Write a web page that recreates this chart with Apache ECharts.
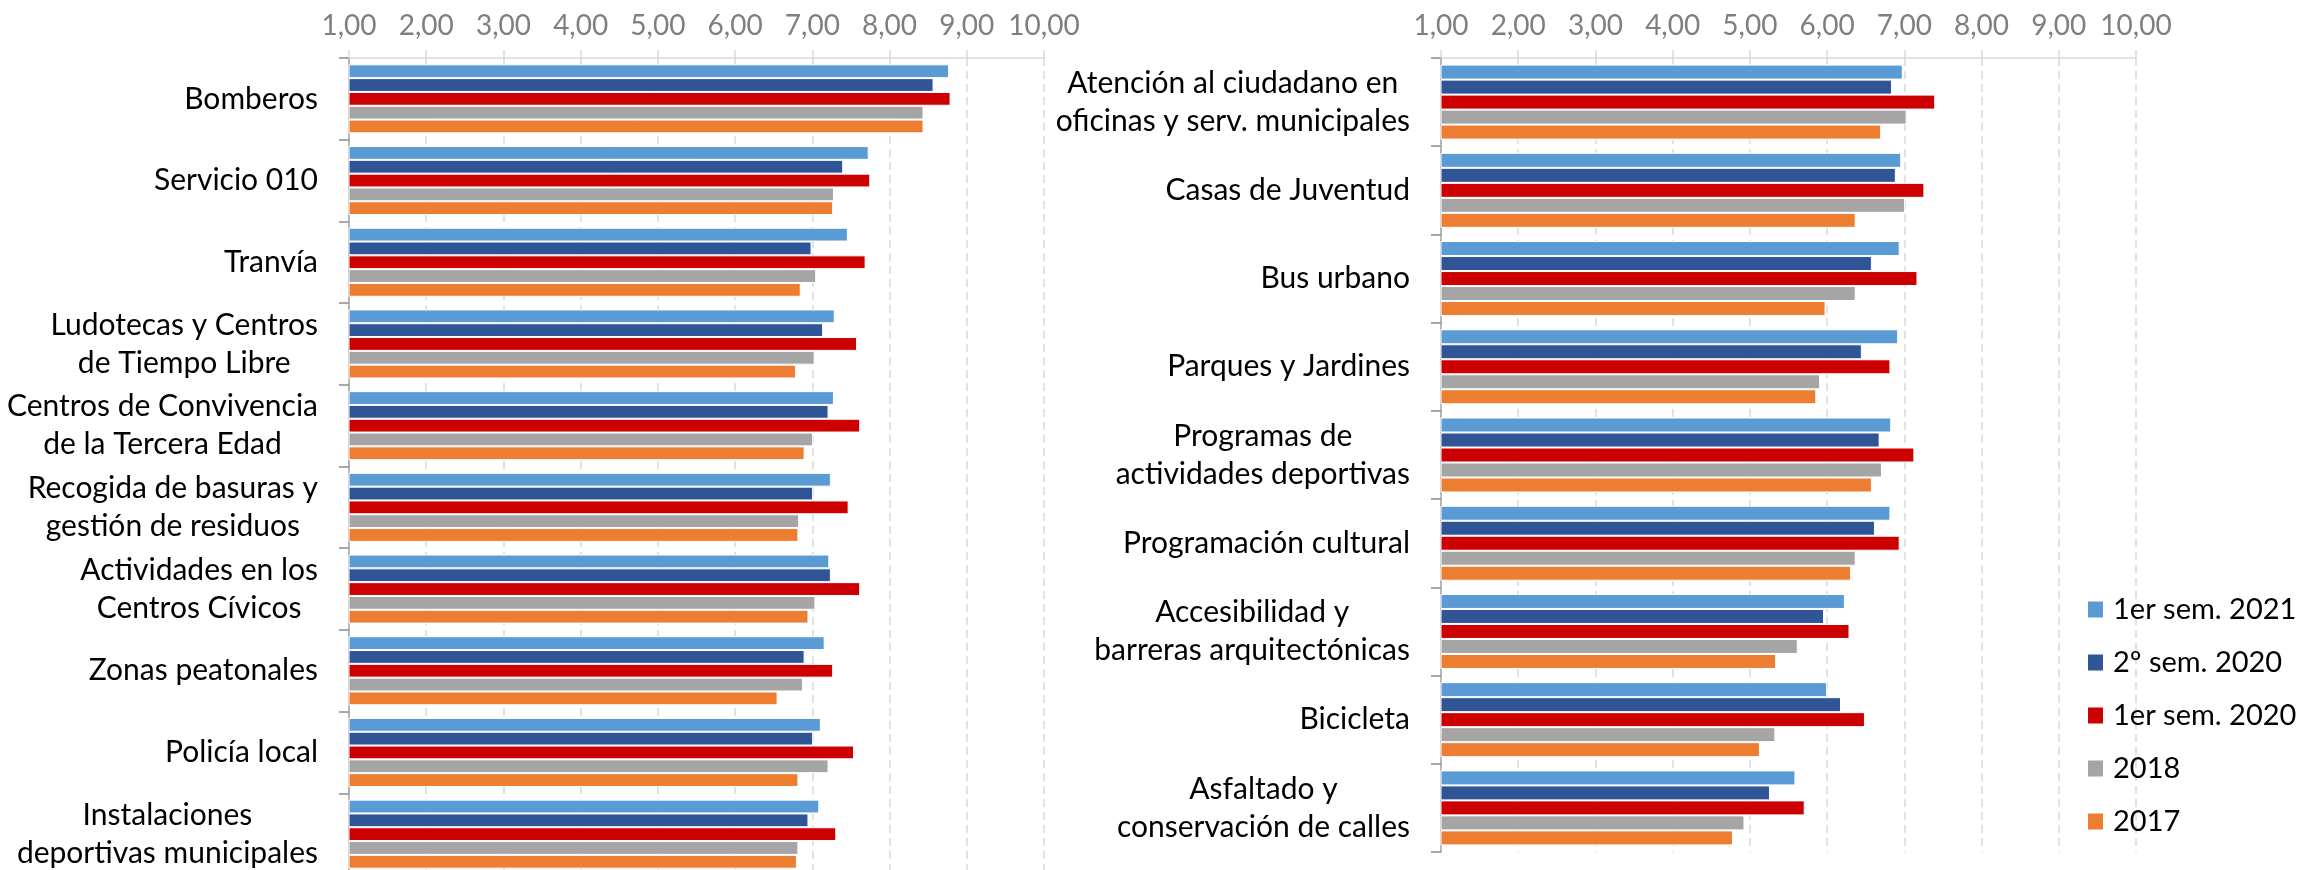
<!DOCTYPE html>
<html>
<head>
<meta charset="utf-8">
<title>Valoración de servicios municipales</title>
<script src="https://cdn.jsdelivr.net/npm/echarts@6/dist/echarts.min.js"></script>
<style>html,body{margin:0;padding:0;background:#fff;}</style>
</head>
<body>
<div id="main" style="width:2300px;height:870px;"></div>
<script>
// series (periods) and colours
var periods = ['1er sem. 2021', '2º sem. 2020', '1er sem. 2020', '2018', '2017'];
var periodColors = ['#5B9BD5', '#2F5597', '#CC0000', '#A5A5A5', '#ED7D31'];

// left panel
var catsLeft = [
  'Bomberos',
  'Servicio 010',
  'Tranvía',
  'Ludotecas y Centros\nde Tiempo Libre',
  'Centros de Convivencia\nde la Tercera Edad',
  'Recogida de basuras y\ngestión de residuos',
  'Actividades en los\nCentros Cívicos',
  'Zonas peatonales',
  'Policía local',
  'Instalaciones\ndeportivas municipales'
];
var left2021s1 = [8.77, 7.73, 7.46, 7.29, 7.28, 7.24, 7.22, 7.16, 7.11, 7.09];
var left2020s2 = [8.57, 7.40, 6.99, 7.14, 7.21, 7.01, 7.24, 6.90, 7.01, 6.95];
var left2020s1 = [8.79, 7.75, 7.69, 7.58, 7.62, 7.47, 7.62, 7.27, 7.54, 7.31];
var left2018   = [8.44, 7.28, 7.05, 7.03, 7.01, 6.83, 7.04, 6.88, 7.21, 6.82];
var left2017   = [8.44, 7.27, 6.85, 6.79, 6.90, 6.82, 6.95, 6.55, 6.82, 6.80];

// right panel
var catsRight = [
  'Atención al ciudadano en\noficinas y serv. municipales',
  'Casas de Juventud',
  'Bus urbano',
  'Parques y Jardines',
  'Programas de\nactividades deportivas',
  'Programación cultural',
  'Accesibilidad y\nbarreras arquitectónicas',
  'Bicicleta',
  'Asfaltado y\nconservación de calles'
];
var right2021s1 = [6.98, 6.96, 6.94, 6.92, 6.83, 6.82, 6.23, 6.00, 5.59];
var right2020s2 = [6.84, 6.89, 6.58, 6.45, 6.68, 6.62, 5.96, 6.18, 5.26];
var right2020s1 = [7.40, 7.26, 7.17, 6.82, 7.13, 6.94, 6.29, 6.49, 5.71];
var right2018   = [7.03, 7.01, 6.37, 5.91, 6.71, 6.37, 5.62, 5.33, 4.93];
var right2017   = [6.70, 6.37, 5.98, 5.86, 6.58, 6.31, 5.34, 5.13, 4.78];

var leftData = [left2021s1, left2020s2, left2020s1, left2018, left2017];
var rightData = [right2021s1, right2020s2, right2020s1, right2018, right2017];

var FONT = 'Lato';

function valueAxis(idx) {
  return {
    gridIndex: idx,
    type: 'value',
    position: 'top',
    min: 1,
    max: 10,
    interval: 1,
    axisLine: { show: true, lineStyle: { color: '#D9D9D9', width: 1.5 } },
    axisTick: { show: true, length: 8, lineStyle: { color: '#D9D9D9', width: 1.5 } },
    axisLabel: {
      color: '#7F7F7F', fontSize: 28, fontFamily: FONT, margin: 18,
      formatter: function (v) { return v.toFixed(2).replace('.', ','); }
    },
    splitLine: { show: true, lineStyle: { color: '#D9D9D9', width: 1.5, type: [8, 5] } }
  };
}

function catAxis(idx, cats) {
  return {
    gridIndex: idx,
    type: 'category',
    inverse: true,
    data: cats,
    axisLine: { show: true, lineStyle: { color: '#A6A6A6', width: 1.5 } },
    axisTick: { show: true, length: 10, lineStyle: { color: '#8C8C8C', width: 1.5 } },
    axisLabel: {
      interval: 0,
      margin: 31,
      color: '#000', fontSize: 30, fontFamily: FONT, lineHeight: 38,
      // lines centred inside the right-aligned block
      formatter: function (v) {
        return v.split('\n').map(function (s) { return '{c|' + s + '}'; }).join('\n');
      },
      rich: { c: { align: 'center', color: '#000', fontSize: 30, fontFamily: FONT, lineHeight: 38 } }
    },
    splitLine: { show: false }
  };
}

var series = [];
periods.forEach(function (name, i) {
  [leftData, rightData].forEach(function (set, g) {
    series.push({
      name: name,
      type: 'bar',
      xAxisIndex: g,
      yAxisIndex: g,
      data: set[i],
      barGap: '0%',
      barCategoryGap: g === 0 ? '15.5%' : '15%',
      itemStyle: { color: periodColors[i], borderColor: '#fff', borderWidth: 1 },
      emphasis: { disabled: true }
    });
  });
});

var chart = echarts.init(document.getElementById('main'));
chart.setOption({
  animation: false,
  backgroundColor: '#fff',
  grid: [
    { left: 349, top: 58, width: 695, height: 817, outerBoundsMode: 'none' },
    { left: 1441, top: 58, width: 695, height: 794, outerBoundsMode: 'none' }
  ],
  legend: {
    orient: 'vertical',
    left: 2086,
    top: 595,
    padding: 0,
    itemWidth: 17,
    itemHeight: 18,
    itemGap: 24,
    icon: 'rect',
    data: periods,
    textStyle: { color: '#000', fontSize: 29, fontFamily: FONT, padding: [0, 0, 0, 4] }
  },
  xAxis: [valueAxis(0), valueAxis(1)],
  yAxis: [catAxis(0, catsLeft), catAxis(1, catsRight)],
  series: series
});
</script>
</body>
</html>
